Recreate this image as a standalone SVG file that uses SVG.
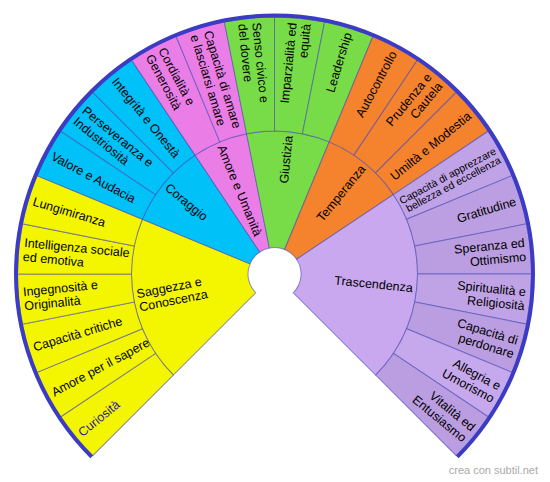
<svg xmlns="http://www.w3.org/2000/svg" width="550" height="482" viewBox="0 0 550 482">
<style>
.w{stroke:#4a4ab4;stroke-opacity:.6;stroke-width:1}
text{font-family:"Liberation Sans",Arial,sans-serif;font-size:12.5px;fill:#000}
.s{text-anchor:start}
.e{text-anchor:end}
.sm{font-size:10.5px}
.wm{font-size:11px;fill:#aaaaaa;text-anchor:end}
.rim{fill:none;stroke:#3b3bc4;stroke-width:4}
</style>
<defs>
<path id="leaf" d="M0,-143L0,-257A257,257 0 0 1 50.14,-252.06L27.90,-140.25A143,143 0 0 0 0,-143Z"/>
</defs>
<g transform="translate(274.5,274)">
<g id="saggezza">
<path class="w" fill="#f4f600" transform="rotate(-135)" d="M0,-26.5L0,-143A143,143 0 0 1 132.11,-54.72L24.48,-10.14A26.5,26.5 0 0 0 0,-26.5Z"/>
<text class="s" transform="rotate(-11.25)"><tspan x="-139" y="-3">Saggezza e</tspan><tspan x="-139" y="10.5">Conoscenza</tspan></text>
</g>
<g id="curiosita"><use href="#leaf" class="w" fill="#f4f600" transform="rotate(-135)"/>
<text class="s" transform="rotate(-39.375)" x="-252" y="4.5" style="fill:#2e1a9e">Curiosità</text></g>
<g id="amore-sapere"><use href="#leaf" class="w" fill="#f4f600" transform="rotate(-123.75)"/>
<text class="s" transform="rotate(-28.125)" x="-252" y="4.5">Amore per il sapere</text></g>
<g id="capacita-critiche"><use href="#leaf" class="w" fill="#f4f600" transform="rotate(-112.5)"/>
<text class="s" transform="rotate(-16.875)" x="-252" y="4.5">Capacità critiche</text></g>
<g id="ingegnosita"><use href="#leaf" class="w" fill="#f4f600" transform="rotate(-101.25)"/>
<text class="s" transform="rotate(-5.625)"><tspan x="-252" y="-2.5">Ingegnosità e</tspan><tspan x="-252" y="11.5">Originalità</tspan></text></g>
<g id="intelligenza"><use href="#leaf" class="w" fill="#f4f600" transform="rotate(-90)"/>
<text class="s" transform="rotate(5.625)"><tspan x="-252" y="-2.5">Intelligenza sociale</tspan><tspan x="-252" y="11.5">ed emotiva</tspan></text></g>
<g id="lungimiranza"><use href="#leaf" class="w" fill="#f4f600" transform="rotate(-78.75)"/>
<text class="s" transform="rotate(16.875)" x="-252" y="4.5">Lungimiranza</text></g>

<g id="coraggio">
<path class="w" fill="#00c2f8" transform="rotate(-67.5)" d="M0,-26.5L0,-143A143,143 0 0 1 79.45,-118.90L14.72,-22.03A26.5,26.5 0 0 0 0,-26.5Z"/>
<text class="s" transform="rotate(39.375)" x="-139" y="4.5">Coraggio</text>
</g>
<g id="valore"><use href="#leaf" class="w" fill="#00c2f8" transform="rotate(-67.5)"/>
<text class="s" transform="rotate(28.125)" x="-252" y="4.5">Valore e Audacia</text></g>
<g id="perseveranza"><use href="#leaf" class="w" fill="#00c2f8" transform="rotate(-56.25)"/>
<text class="s" transform="rotate(39.375)"><tspan x="-252" y="-2.5">Perseveranza e</tspan><tspan x="-252" y="11.5">Industriosità</tspan></text></g>
<g id="integrita"><use href="#leaf" class="w" fill="#00c2f8" transform="rotate(-45)"/>
<text class="s" transform="rotate(50.625)" x="-252" y="4.5">Integrità e Onestà</text></g>

<g id="amore-umanita">
<path class="w" fill="#eb7ee6" transform="rotate(-33.75)" d="M0,-26.5L0,-143A143,143 0 0 1 54.72,-132.11L10.14,-24.48A26.5,26.5 0 0 0 0,-26.5Z"/>
<text class="s" transform="rotate(67.5)" x="-139" y="4.5">Amore e Umanità</text>
</g>
<g id="cordialita"><use href="#leaf" class="w" fill="#eb7ee6" transform="rotate(-33.75)"/>
<text class="s" transform="rotate(61.875)"><tspan x="-252" y="-2.5">Cordialità e</tspan><tspan x="-252" y="11.5">Generosità</tspan></text></g>
<g id="capacita-amare"><use href="#leaf" class="w" fill="#eb7ee6" transform="rotate(-22.5)"/>
<text class="s" transform="rotate(73.125)"><tspan x="-252" y="-2.5">Capacità di amare</tspan><tspan x="-252" y="11.5">e lasciarsi amare</tspan></text></g>

<g id="giustizia">
<path class="w" fill="#77dc47" transform="rotate(-11.25)" d="M0,-26.5L0,-143A143,143 0 0 1 79.45,-118.90L14.72,-22.03A26.5,26.5 0 0 0 0,-26.5Z"/>
<text class="e" transform="rotate(-84.375)" x="139" y="4.5">Giustizia</text>
</g>
<g id="senso-civico"><use href="#leaf" class="w" fill="#77dc47" transform="rotate(-11.25)"/>
<text class="s" transform="rotate(84.375)"><tspan x="-252" y="-2.5">Senso civico e</tspan><tspan x="-252" y="11.5">del dovere</tspan></text></g>
<g id="imparzialita"><use href="#leaf" class="w" fill="#77dc47" transform="rotate(0)"/>
<text class="e" transform="rotate(-84.375)"><tspan x="252" y="-2.5">Imparzialità ed</tspan><tspan x="252" y="11.5">equità</tspan></text></g>
<g id="leadership"><use href="#leaf" class="w" fill="#77dc47" transform="rotate(11.25)"/>
<text class="e" transform="rotate(-73.125)" x="252" y="4.5">Leadership</text></g>

<g id="temperanza">
<path class="w" fill="#f5822d" transform="rotate(22.5)" d="M0,-26.5L0,-143A143,143 0 0 1 79.45,-118.90L14.72,-22.03A26.5,26.5 0 0 0 0,-26.5Z"/>
<text class="e" transform="rotate(-50.625)" x="139" y="4.5">Temperanza</text>
</g>
<g id="autocontrollo"><use href="#leaf" class="w" fill="#f5822d" transform="rotate(22.5)"/>
<text class="e" transform="rotate(-61.875)" x="252" y="4.5">Autocontrollo</text></g>
<g id="prudenza"><use href="#leaf" class="w" fill="#f5822d" transform="rotate(33.75)"/>
<text class="e" transform="rotate(-50.625)"><tspan x="252" y="-2.5">Prudenza e</tspan><tspan x="252" y="11.5">Cautela</tspan></text></g>
<g id="umilta"><use href="#leaf" class="w" fill="#f5822d" transform="rotate(45)"/>
<text class="e" transform="rotate(-39.375)" x="252" y="4.5">Umiltà e Modestia</text></g>

<g id="trascendenza">
<path class="w" fill="#c9a8ef" transform="rotate(56.25)" d="M0,-26.5L0,-143A143,143 0 0 1 140.25,-27.90L25.99,-5.17A26.5,26.5 0 0 0 0,-26.5Z"/>
<text class="e" transform="rotate(5.625)" x="139" y="4.5">Trascendenza</text>
</g>
<g id="apprezzare"><use href="#leaf" class="w" fill="#c0a2e6" transform="rotate(56.25)"/>
<text class="e sm" transform="rotate(-28.125)"><tspan x="253" y="-1.3">Capacità di apprezzare</tspan><tspan x="253" y="8.7">bellezza ed eccellenza</tspan></text></g>
<g id="gratitudine"><use href="#leaf" class="w" fill="#bc9fe2" transform="rotate(67.5)"/>
<text class="e" transform="rotate(-16.875)" x="252" y="4.5">Gratitudine</text></g>
<g id="speranza"><use href="#leaf" class="w" fill="#bb9de1" transform="rotate(78.75)"/>
<text class="e" transform="rotate(-5.625)"><tspan x="252" y="-2.5">Speranza ed</tspan><tspan x="252" y="11.5">Ottimismo</tspan></text></g>
<g id="spiritualita"><use href="#leaf" class="w" fill="#c0a3e6" transform="rotate(90)"/>
<text class="e" transform="rotate(5.625)"><tspan x="252" y="-2.5">Spiritualità e</tspan><tspan x="252" y="11.5">Religiosità</tspan></text></g>
<g id="perdonare"><use href="#leaf" class="w" fill="#bb9de1" transform="rotate(101.25)"/>
<text class="e" transform="rotate(16.875)"><tspan x="252" y="-2.5">Capacità di</tspan><tspan x="252" y="11.5">perdonare</tspan></text></g>
<g id="allegria"><use href="#leaf" class="w" fill="#c6a8ec" transform="rotate(112.5)"/>
<text class="e" transform="rotate(28.125)"><tspan x="252" y="-2.5">Allegria e</tspan><tspan x="252" y="11.5">Umorismo</tspan></text></g>
<g id="vitalita"><use href="#leaf" class="w" fill="#bb9de1" transform="rotate(123.75)"/>
<text class="e" transform="rotate(39.375)"><tspan x="252" y="-2.5">Vitalità ed</tspan><tspan x="252" y="11.5">Entusiasmo</tspan></text></g>

<path id="rim" class="rim" d="M-182.79,182.79A258.5,258.5 0 1 1 182.79,182.79"/>
</g>
<text class="wm" x="538" y="474">crea con subtil.net</text>
</svg>
